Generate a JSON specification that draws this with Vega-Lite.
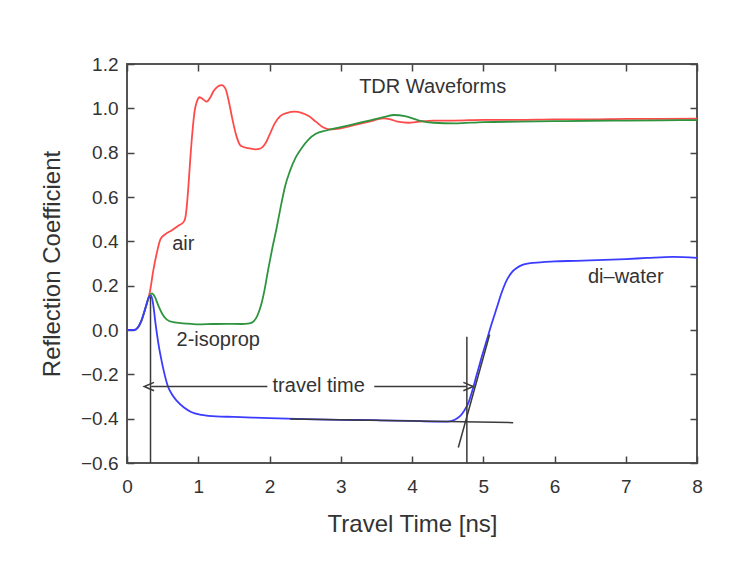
{
  "$schema": "https://vega.github.io/schema/vega-lite/v6.json",
  "width": 570,
  "height": 399,
  "autosize": {"type": "none"},
  "padding": {"left": 127, "top": 64, "right": 50, "bottom": 100},
  "view": {"stroke": "#555555", "strokeWidth": 2},
  "config": {"font": "Liberation Sans"},
  "datasets": {
    "wave": [
      {"series": "air", "t": 0, "r": 0}, {"series": "air", "t": 0.1, "r": 0}, {"series": "air", "t": 0.15, "r": 0.01}, {"series": "air", "t": 0.2, "r": 0.04}, {"series": "air", "t": 0.26, "r": 0.1}, {"series": "air", "t": 0.32, "r": 0.17}, {"series": "air", "t": 0.37, "r": 0.27}, {"series": "air", "t": 0.42, "r": 0.35}, {"series": "air", "t": 0.47, "r": 0.41}, {"series": "air", "t": 0.53, "r": 0.43}, {"series": "air", "t": 0.63, "r": 0.45}, {"series": "air", "t": 0.72, "r": 0.47}, {"series": "air", "t": 0.8, "r": 0.49}, {"series": "air", "t": 0.83, "r": 0.53}, {"series": "air", "t": 0.86, "r": 0.64}, {"series": "air", "t": 0.89, "r": 0.78}, {"series": "air", "t": 0.92, "r": 0.9}, {"series": "air", "t": 0.95, "r": 0.99}, {"series": "air", "t": 0.98, "r": 1.03}, {"series": "air", "t": 1.02, "r": 1.05}, {"series": "air", "t": 1.07, "r": 1.04}, {"series": "air", "t": 1.12, "r": 1.03}, {"series": "air", "t": 1.17, "r": 1.05}, {"series": "air", "t": 1.22, "r": 1.08}, {"series": "air", "t": 1.28, "r": 1.1}, {"series": "air", "t": 1.33, "r": 1.105}, {"series": "air", "t": 1.38, "r": 1.09}, {"series": "air", "t": 1.43, "r": 1.03}, {"series": "air", "t": 1.48, "r": 0.95}, {"series": "air", "t": 1.54, "r": 0.87}, {"series": "air", "t": 1.6, "r": 0.83}, {"series": "air", "t": 1.7, "r": 0.82}, {"series": "air", "t": 1.8, "r": 0.815}, {"series": "air", "t": 1.88, "r": 0.82}, {"series": "air", "t": 1.94, "r": 0.84}, {"series": "air", "t": 2.0, "r": 0.88}, {"series": "air", "t": 2.07, "r": 0.93}, {"series": "air", "t": 2.15, "r": 0.965}, {"series": "air", "t": 2.25, "r": 0.98}, {"series": "air", "t": 2.35, "r": 0.985}, {"series": "air", "t": 2.45, "r": 0.98}, {"series": "air", "t": 2.55, "r": 0.965}, {"series": "air", "t": 2.65, "r": 0.94}, {"series": "air", "t": 2.75, "r": 0.915}, {"series": "air", "t": 2.85, "r": 0.905}, {"series": "air", "t": 3.0, "r": 0.91}, {"series": "air", "t": 3.2, "r": 0.925}, {"series": "air", "t": 3.4, "r": 0.94}, {"series": "air", "t": 3.6, "r": 0.955}, {"series": "air", "t": 3.7, "r": 0.95}, {"series": "air", "t": 3.8, "r": 0.94}, {"series": "air", "t": 3.95, "r": 0.935}, {"series": "air", "t": 4.1, "r": 0.94}, {"series": "air", "t": 4.3, "r": 0.945}, {"series": "air", "t": 4.6, "r": 0.945}, {"series": "air", "t": 5.0, "r": 0.948}, {"series": "air", "t": 5.5, "r": 0.948}, {"series": "air", "t": 6.0, "r": 0.95}, {"series": "air", "t": 6.5, "r": 0.95}, {"series": "air", "t": 7.0, "r": 0.952}, {"series": "air", "t": 7.5, "r": 0.952}, {"series": "air", "t": 8.0, "r": 0.953},
      {"series": "2-isoprop", "t": 0, "r": 0}, {"series": "2-isoprop", "t": 0.1, "r": 0}, {"series": "2-isoprop", "t": 0.15, "r": 0.01}, {"series": "2-isoprop", "t": 0.2, "r": 0.04}, {"series": "2-isoprop", "t": 0.26, "r": 0.1}, {"series": "2-isoprop", "t": 0.31, "r": 0.15}, {"series": "2-isoprop", "t": 0.35, "r": 0.165}, {"series": "2-isoprop", "t": 0.39, "r": 0.15}, {"series": "2-isoprop", "t": 0.44, "r": 0.11}, {"series": "2-isoprop", "t": 0.5, "r": 0.07}, {"series": "2-isoprop", "t": 0.56, "r": 0.047}, {"series": "2-isoprop", "t": 0.65, "r": 0.035}, {"series": "2-isoprop", "t": 0.8, "r": 0.03}, {"series": "2-isoprop", "t": 1.0, "r": 0.025}, {"series": "2-isoprop", "t": 1.2, "r": 0.027}, {"series": "2-isoprop", "t": 1.4, "r": 0.028}, {"series": "2-isoprop", "t": 1.6, "r": 0.027}, {"series": "2-isoprop", "t": 1.72, "r": 0.03}, {"series": "2-isoprop", "t": 1.78, "r": 0.04}, {"series": "2-isoprop", "t": 1.83, "r": 0.065}, {"series": "2-isoprop", "t": 1.88, "r": 0.11}, {"series": "2-isoprop", "t": 1.93, "r": 0.18}, {"series": "2-isoprop", "t": 1.98, "r": 0.27}, {"series": "2-isoprop", "t": 2.04, "r": 0.37}, {"series": "2-isoprop", "t": 2.1, "r": 0.46}, {"series": "2-isoprop", "t": 2.16, "r": 0.56}, {"series": "2-isoprop", "t": 2.22, "r": 0.65}, {"series": "2-isoprop", "t": 2.29, "r": 0.72}, {"series": "2-isoprop", "t": 2.37, "r": 0.78}, {"series": "2-isoprop", "t": 2.45, "r": 0.82}, {"series": "2-isoprop", "t": 2.55, "r": 0.86}, {"series": "2-isoprop", "t": 2.65, "r": 0.885}, {"series": "2-isoprop", "t": 2.8, "r": 0.9}, {"series": "2-isoprop", "t": 3.0, "r": 0.915}, {"series": "2-isoprop", "t": 3.2, "r": 0.93}, {"series": "2-isoprop", "t": 3.4, "r": 0.945}, {"series": "2-isoprop", "t": 3.6, "r": 0.96}, {"series": "2-isoprop", "t": 3.75, "r": 0.97}, {"series": "2-isoprop", "t": 3.9, "r": 0.965}, {"series": "2-isoprop", "t": 4.1, "r": 0.945}, {"series": "2-isoprop", "t": 4.3, "r": 0.935}, {"series": "2-isoprop", "t": 4.6, "r": 0.932}, {"series": "2-isoprop", "t": 5.0, "r": 0.938}, {"series": "2-isoprop", "t": 5.5, "r": 0.94}, {"series": "2-isoprop", "t": 6.0, "r": 0.942}, {"series": "2-isoprop", "t": 6.5, "r": 0.944}, {"series": "2-isoprop", "t": 7.0, "r": 0.945}, {"series": "2-isoprop", "t": 7.5, "r": 0.946}, {"series": "2-isoprop", "t": 8.0, "r": 0.947},
      {"series": "di-water", "t": 0, "r": 0}, {"series": "di-water", "t": 0.1, "r": 0}, {"series": "di-water", "t": 0.15, "r": 0.01}, {"series": "di-water", "t": 0.2, "r": 0.04}, {"series": "di-water", "t": 0.26, "r": 0.1}, {"series": "di-water", "t": 0.31, "r": 0.15}, {"series": "di-water", "t": 0.34, "r": 0.155}, {"series": "di-water", "t": 0.37, "r": 0.11}, {"series": "di-water", "t": 0.4, "r": 0.03}, {"series": "di-water", "t": 0.44, "r": -0.06}, {"series": "di-water", "t": 0.48, "r": -0.13}, {"series": "di-water", "t": 0.52, "r": -0.19}, {"series": "di-water", "t": 0.57, "r": -0.25}, {"series": "di-water", "t": 0.63, "r": -0.29}, {"series": "di-water", "t": 0.7, "r": -0.32}, {"series": "di-water", "t": 0.8, "r": -0.35}, {"series": "di-water", "t": 0.9, "r": -0.37}, {"series": "di-water", "t": 1.05, "r": -0.383}, {"series": "di-water", "t": 1.25, "r": -0.39}, {"series": "di-water", "t": 1.5, "r": -0.392}, {"series": "di-water", "t": 2.0, "r": -0.398}, {"series": "di-water", "t": 2.5, "r": -0.402}, {"series": "di-water", "t": 3.0, "r": -0.405}, {"series": "di-water", "t": 3.5, "r": -0.407}, {"series": "di-water", "t": 4.0, "r": -0.41}, {"series": "di-water", "t": 4.3, "r": -0.413}, {"series": "di-water", "t": 4.5, "r": -0.413}, {"series": "di-water", "t": 4.6, "r": -0.405}, {"series": "di-water", "t": 4.67, "r": -0.39}, {"series": "di-water", "t": 4.73, "r": -0.365}, {"series": "di-water", "t": 4.79, "r": -0.33}, {"series": "di-water", "t": 4.85, "r": -0.27}, {"series": "di-water", "t": 4.91, "r": -0.2}, {"series": "di-water", "t": 4.98, "r": -0.12}, {"series": "di-water", "t": 5.05, "r": -0.045}, {"series": "di-water", "t": 5.12, "r": 0.03}, {"series": "di-water", "t": 5.19, "r": 0.1}, {"series": "di-water", "t": 5.26, "r": 0.17}, {"series": "di-water", "t": 5.33, "r": 0.225}, {"series": "di-water", "t": 5.4, "r": 0.26}, {"series": "di-water", "t": 5.47, "r": 0.28}, {"series": "di-water", "t": 5.56, "r": 0.295}, {"series": "di-water", "t": 5.66, "r": 0.302}, {"series": "di-water", "t": 5.8, "r": 0.305}, {"series": "di-water", "t": 6.0, "r": 0.31}, {"series": "di-water", "t": 6.3, "r": 0.312}, {"series": "di-water", "t": 6.7, "r": 0.316}, {"series": "di-water", "t": 7.0, "r": 0.32}, {"series": "di-water", "t": 7.3, "r": 0.325}, {"series": "di-water", "t": 7.66, "r": 0.33}, {"series": "di-water", "t": 8.0, "r": 0.325}
    ],
    "refs": [
      {"id": "v1", "k": 0, "t": 0.33, "r": -0.6}, {"id": "v1", "k": 1, "t": 0.33, "r": 0.15},
      {"id": "v2", "k": 0, "t": 4.77, "r": -0.6}, {"id": "v2", "k": 1, "t": 4.77, "r": -0.03},
      {"id": "base", "k": 0, "t": 2.29, "r": -0.402}, {"id": "base", "k": 1, "t": 5.42, "r": -0.418},
      {"id": "tangent", "k": 0, "t": 4.65, "r": -0.53}, {"id": "tangent", "k": 1, "t": 5.09, "r": -0.02},
      {"id": "arrowL", "k": 0, "t": 0.34, "r": -0.255}, {"id": "arrowL", "k": 1, "t": 1.97, "r": -0.255},
      {"id": "arrowR", "k": 0, "t": 3.47, "r": -0.255}, {"id": "arrowR", "k": 1, "t": 4.76, "r": -0.255}
    ],
    "tips": [
      {"end": "left", "t": 0.34, "r": -0.255},
      {"end": "right", "t": 4.76, "r": -0.255}
    ],
    "notes": [
      {"label": "TDR Waveforms", "t": 4.29, "r": 1.095},
      {"label": "air", "t": 0.79, "r": 0.39},
      {"label": "2-isoprop", "t": 1.28, "r": -0.045},
      {"label": "travel time", "t": 2.69, "r": -0.253},
      {"label": "di–water", "t": 7.0, "r": 0.24}
    ]
  },
  "encoding": {
    "x": {"field": "t", "type": "quantitative", "scale": {"domain": [0, 8], "nice": false, "zero": false},
      "axis": {"values": [0, 1, 2, 3, 4, 5, 6, 7, 8], "format": "d", "domain": false, "ticks": false,
        "grid": true, "gridDash": [7, 385], "gridColor": "#444444", "gridWidth": 1.5, "gridOpacity": 1,
        "labelFlush": false, "labelPadding": 14, "labelFontSize": 19, "labelColor": "#333333",
        "labelFont": "Liberation Sans", "title": "Travel Time [ns]", "titleFont": "Liberation Sans", "titleFontSize": 24,
        "titleFontWeight": "normal", "titleColor": "#333333", "titlePadding": 16}},
    "y": {"field": "r", "type": "quantitative", "scale": {"domain": [-0.6, 1.2], "nice": false, "zero": false},
      "axis": {"values": [-0.6, -0.4, -0.2, 0, 0.2, 0.4, 0.6, 0.8, 1.0, 1.2], "format": ".1f", "domain": false, "ticks": false,
        "grid": true, "gridDash": [7, 556], "gridColor": "#444444", "gridWidth": 1.5, "gridOpacity": 1,
        "labelFlush": false, "labelPadding": 9, "labelFontSize": 19, "labelColor": "#333333",
        "labelFont": "Liberation Sans", "title": "Reflection Coefficient", "titleFont": "Liberation Sans", "titleFontSize": 24,
        "titleFontWeight": "normal", "titleColor": "#333333", "titlePadding": 16}}
  },
  "layer": [
    {
      "data": {"name": "wave"},
      "mark": {"type": "line", "interpolate": "monotone", "strokeWidth": 1.8},
      "encoding": {
        "color": {"field": "series", "type": "nominal", "scale": {"domain": ["air", "2-isoprop", "di-water"], "range": ["#ff4a4a", "#2f9440", "#3c3cff"]}, "legend": null}
      }
    },
    {
      "data": {"name": "refs"},
      "mark": {"type": "line", "strokeWidth": 1.5, "color": "#3a3a3a"},
      "encoding": {
        "detail": {"field": "id", "type": "nominal"},
        "order": {"field": "k", "type": "quantitative"}
      }
    },
    {
      "data": {"name": "tips"},
      "mark": {"type": "point", "filled": false, "stroke": "#3a3a3a", "strokeWidth": 1.5, "size": 196, "opacity": 1},
      "encoding": {
        "shape": {"field": "end", "type": "nominal", "scale": {"domain": ["left", "right"], "range": ["M0.4,-0.6L-1,0L0.4,0.6", "M-0.4,-0.6L1,0L-0.4,0.6"]}, "legend": null}
      }
    },
    {
      "data": {"name": "notes"},
      "mark": {"type": "text", "fontSize": 20, "font": "Liberation Sans", "color": "#333333", "align": "center", "baseline": "middle"},
      "encoding": {
        "text": {"field": "label"}
      }
    }
  ]
}
